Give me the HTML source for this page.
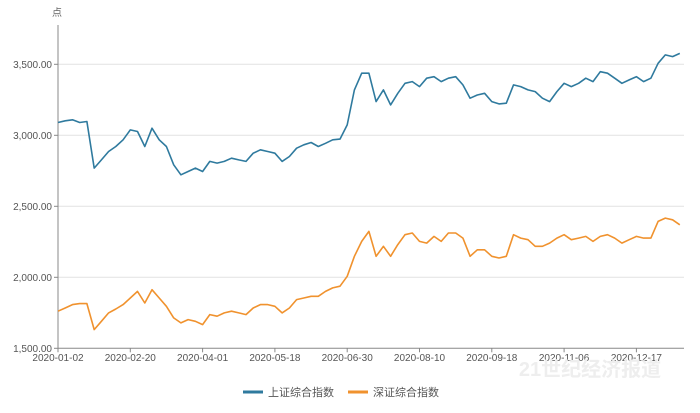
<!DOCTYPE html>
<html><head><meta charset="utf-8"><style>
body{margin:0;background:#fff;width:700px;height:408px;overflow:hidden;font-family:"Liberation Sans","Noto Sans CJK SC",sans-serif}
svg text{font-family:"Liberation Sans","Noto Sans CJK SC",sans-serif}
</style></head><body>
<svg id="c" width="700" height="408"></svg>
<script>
const categories = Array.from({length:87},(_,i)=>i*3);
const tickLabels = ["2020-01-02","2020-02-20","2020-04-01","2020-05-18","2020-06-30","2020-08-10","2020-09-18","2020-11-06","2020-12-17"];
const tickIndex = [0,30,60,90,120,150,180,210,240];
const yTicks = [1500,2000,2500,3000,3500];
const yTickLabels = ["1,500.00","2,000.00","2,500.00","3,000.00","3,500.00"];
const shanghai = [3090,3102,3109,3090,3097,2769,2827,2886,2921,2968,3038,3027,2921,3050,2968,2921,2792,2722,2745,2769,2745,2816,2804,2816,2839,2827,2816,2874,2898,2886,2874,2816,2851,2909,2933,2949,2921,2944,2968,2973,3073,3320,3437,
3437,3237,3320,3214,3296,3366,3378,3343,3402,3413,3378,3402,3413,3355,3261,3284,3296,3237,3221,3226,3355,3343,3320,3308,3261,3237,3308,3366,3343,3366,3402,3378,3448,3437,3402,3366,3390,3413,3378,3402,3507,3566,3554,3577];
const shenzhen = [1761,1784,1808,1815,1815,1632,1690,1749,1777,1808,1854,1901,1819,1913,1854,1796,1714,1679,1702,1690,1667,1737,1726,1749,1761,1749,1737,1784,1808,1808,1796,1749,1784,1843,1854,1866,1866,1901,1925,1937,2007,2148,2253,
2323,2148,2218,2148,2230,2300,2312,2253,2241,2288,2253,2312,2312,2276,2148,2194,2194,2148,2136,2148,2300,2276,2265,2218,2218,2241,2276,2300,2265,2276,2288,2253,2288,2300,2276,2241,2265,2288,2276,2276,2394,2417,2405,2370];

const NS="http://www.w3.org/2000/svg";
const svg=document.getElementById('c');
const X0=58,X1=684,DAY=2.41;
const xs=d=>X0+d*DAY;
const ys=v=>348.3-(v-1500)/500*71.0;
function mk(t,a,p){const e=document.createElementNS(NS,t);for(const k in a)e.setAttribute(k,a[k]);(p||svg).appendChild(e);return e;}

let u=mk('text',{x:52,y:16,'font-size':10,fill:'#666'});u.textContent='点';



yTicks.forEach((v,i)=>{
  if(i>0){const g=mk('line',{x1:X0,x2:X1,y1:ys(v),y2:ys(v),stroke:'#e2e2e2','stroke-width':1});
  
  }
  const t=mk('text',{x:52,y:ys(v)+3.5,'font-size':10,fill:'#555','text-anchor':'end'});
  t.textContent=yTickLabels[i];
  
  
  const tk=mk('line',{x1:X0-4,x2:X0,y1:ys(v),y2:ys(v),stroke:'#888'});
  
  
});
let ax=mk('line',{x1:X0,x2:X0,y1:25,y2:ys(1500),stroke:'#888'});


let bx=mk('line',{x1:X0,x2:X1,y1:ys(1500),y2:ys(1500),stroke:'#888'});


tickIndex.forEach((d,i)=>{
  const tk=mk('line',{x1:xs(d),x2:xs(d),y1:ys(1500),y2:ys(1500)+4,stroke:'#888'});
  
  
  const t=mk('text',{x:xs(d),y:361,'font-size':10,fill:'#555','text-anchor':'middle'});
  t.textContent=tickLabels[i];
  
  
});
function line(data,color,name){
  const p=mk('path',{d:data.map((v,i)=>(i?'L':'M')+xs(categories[i]).toFixed(1)+','+ys(v).toFixed(1)).join(''),fill:'none',stroke:color,'stroke-width':1.6,'stroke-linejoin':'round'});
  
  
}
line(shanghai,'#2f7a9e','shanghai-composite-line');
line(shenzhen,'#f0922e','shenzhen-composite-line');

let w=mk('text',{x:590,y:376,'font-size':20,'font-weight':'bold',fill:'#eeeeee','text-anchor':'middle'});w.textContent='21世纪经济报道';



const lg=[['#2f7a9e','上证综合指数',243],['#f0922e','深证综合指数',348]];
lg.forEach(([c,n,x],i)=>{
  const g=mk('g',{});
  
  
  mk('line',{x1:x,x2:x+20,y1:392,y2:392,stroke:c,'stroke-width':3},g);
  const t=mk('text',{x:x+25,y:396,'font-size':11,fill:'#555'},g);t.textContent=n;
});
</script>
</body></html>
